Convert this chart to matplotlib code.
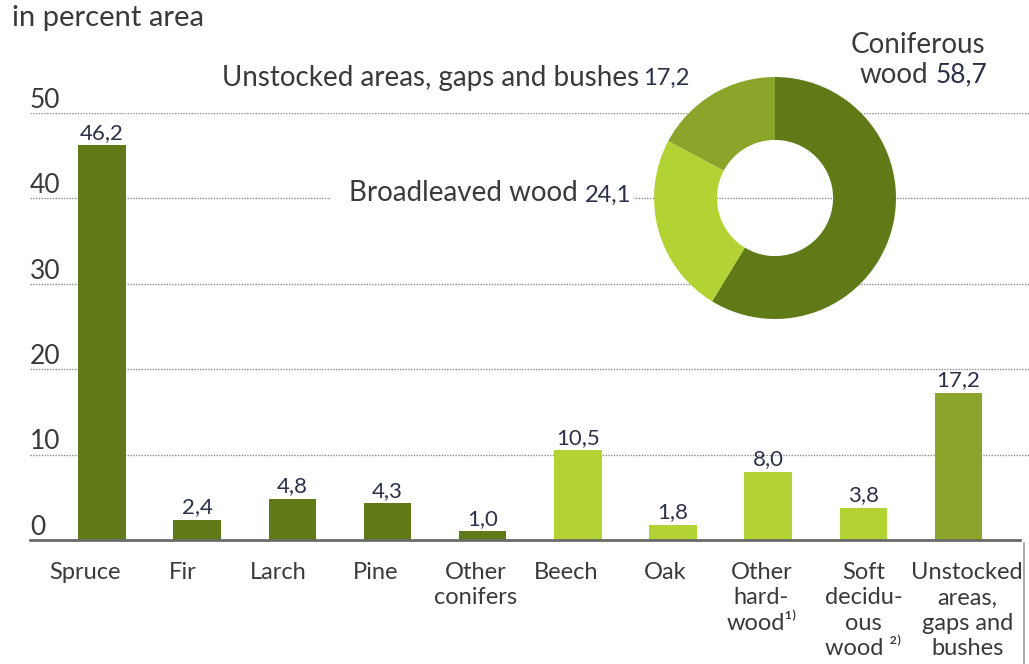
import matplotlib
matplotlib.use("Agg")
import matplotlib.pyplot as plt
from matplotlib.lines import Line2D

plt.rcParams["font.family"] = ["Lato", "DejaVu Sans"]

categories = ["Spruce", "Fir", "Larch", "Pine", "Other\nconifers", "Beech", "Oak",
              "Other\nhard-\nwood\u00b9\u207e", "Soft\ndecidu-\nous\nwood \u00b2\u207e",
              "Unstocked\nareas,\ngaps and\nbushes"]
values = [46.2, 2.4, 4.8, 4.3, 1.0, 10.5, 1.8, 8.0, 3.8, 17.2]
groups = ["con", "con", "con", "con", "con", "broad", "broad", "broad", "broad", "unst"]
yticks = [0, 10, 20, 30, 40, 50]

donut_labels = ["Coniferous wood", "Broadleaved wood", "Unstocked areas, gaps and bushes"]
donut_values = [58.7, 24.1, 17.2]

COLORS = {"con": "#5f7a17", "broad": "#b3d334", "unst": "#8ba52b"}
TXT = "#3a3a3a"
NUM = "#2c3048"

W, H = 1029, 664
fig = plt.figure(figsize=(W / 100, H / 100), dpi=100)

# bar axes: y=0 at px 540, y=50 at px 113
x0px, x1px = 30, 1029
ax = fig.add_axes([x0px / W, 1 - 540 / H, (x1px - x0px) / W, (540 - 113) / H])
xs = list(range(len(values)))
xl = -0.756
ax.set_xlim(xl, 9.74)
ax.set_ylim(0, 50)
ax.patch.set_visible(False)
for s in ax.spines.values():
    s.set_visible(False)

for t in yticks[1:]:
    ax.axhline(t, color="#8a8a8a", lw=1.0, ls=(0, (1, 1)), zorder=0)
ax.plot([xl, 9.65], [0, 0], color="#6a6a6a", lw=2, zorder=3, clip_on=False)

for t in yticks:
    ax.text(xl, t + 0.6, str(t), ha="left", va="baseline", fontsize=19, color=TXT)

ax.bar(xs, values, width=0.5, color=[COLORS[g] for g in groups], zorder=2)
for x, v in zip(xs, values):
    ax.text(x, v + 0.3, f"{v:.1f}".replace(".", ","), ha="center", va="bottom",
            fontsize=16, color=NUM)

# category labels sit slightly left of the bar centres in the original
label_shift = [-0.18, -0.15, -0.15, -0.12, -0.07, -0.12, -0.08, -0.07, 0.0, 0.09]
for x, lab, d in zip(xs, categories, label_shift):
    ax.text(x + d, -2.6, lab, ha="center", va="top", fontsize=17, color=TXT,
            linespacing=1.25, multialignment="center")
ax.set_xticks([])
ax.set_yticks([])

# title
fig.text(12 / W, 1 - 18 / H, "in percent area", fontsize=21, color=TXT,
         ha="left", va="center")

# divider at right bottom
fig.add_artist(Line2D([1024 / W, 1024 / W], [0, 1 - 543 / H], color="#9a9a9a", lw=1.2))

# donut, centre (775,198), outer radius ~121 px
cx, cy, r = 775, 198, 124
ax2 = fig.add_axes([(cx - r) / W, 1 - (cy + r) / H, 2 * r / W, 2 * r / H])
ax2.pie(donut_values, colors=[COLORS["con"], COLORS["broad"], COLORS["unst"]],
        startangle=90, counterclock=False, radius=1,
        wedgeprops=dict(width=0.52, edgecolor="none"))
ax2.set_xlim(-1.025, 1.025)
ax2.set_ylim(-1.025, 1.025)
ax2.set_axis_off()

def ftext(x, y, s, **kw):
    return fig.text(x / W, 1 - y / H, s, **kw)

ftext(918, 45, "Coniferous", fontsize=20, color=TXT, ha="center", va="center")
ftext(928, 75, "wood", fontsize=20, color=TXT, ha="right", va="center")
ftext(936, 75, "58,7", fontsize=19, color=NUM, ha="left", va="center")

ftext(639, 78, donut_labels[2], fontsize=20, color=TXT, ha="right", va="center")
ftext(643, 78, "17,2", fontsize=17, color=NUM, ha="left", va="center")

ftext(578, 193, donut_labels[1], fontsize=20, color=TXT, ha="right", va="center",
      bbox=dict(facecolor="white", edgecolor="none", pad=13))
ftext(585, 195, "24,1", fontsize=17, color=NUM, ha="left", va="center",
      bbox=dict(facecolor="white", edgecolor="none", pad=2))

fig.savefig("out.png", dpi=100)
